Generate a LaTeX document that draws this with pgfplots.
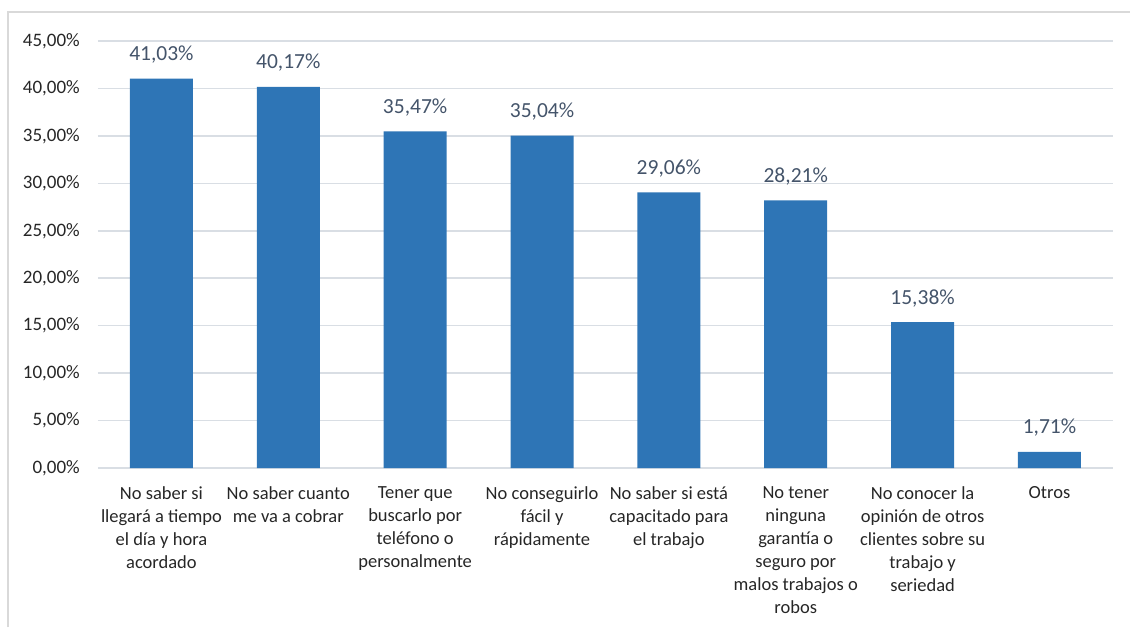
\documentclass[border=0pt]{standalone}
\usepackage{pgfplots}
\pgfplotsset{compat=1.18}
\usepackage{fontspec}
\setmainfont{Carlito}

\definecolor{barblue}{HTML}{2E75B6}
\definecolor{gridgray}{RGB}{217,222,228}
\definecolor{framegray}{RGB}{217,217,217}
\definecolor{lblslate}{HTML}{44546A}
\definecolor{ticktext}{RGB}{38,38,38}

\begin{document}
\begin{tikzpicture}
% page frame, same size as the reference image
\path[use as bounding box] (0,0) rectangle (1130pt,627pt);
\draw[framegray, line width=1.5pt] (8pt,0pt) -- (8pt,615pt) -- (1130pt,615pt);

\begin{axis}[
    at={(98pt,159pt)}, anchor=south west,
    scale only axis,
    width=1015pt, height=427pt,
    ybar, bar width=63pt, bar shift=0pt,
    xmin=-0.5, xmax=7.5,
    ymin=0, ymax=45,
    ytick={0,5,...,45},
    xtick=data,
    axis line style={draw=none},
    major tick length=0pt,
    ymajorgrids,
    grid style={gridgray, line width=1.5pt},
    /pgf/number format/assume math mode=true,
    yticklabel={\pgfmathprintnumber[fixed,fixed zerofill,precision=2,use comma]{\tick}\%},
    yticklabel style={font=\fontsize{19}{22}\selectfont, text=ticktext,
        anchor=east, inner sep=0pt, xshift=-18pt},
    xticklabels={
        {No saber si\\llegará a tiempo\\el día y hora\\acordado},
        {No saber cuanto\\me va a cobrar},
        {Tener que\\buscarlo por\\teléfono o\\personalmente},
        {No conseguirlo\\fácil y\\rápidamente},
        {No saber si está\\capacitado para\\el trabajo},
        {No tener\\ninguna\\garantía o\\seguro por\\malos trabajos o\\robos},
        {No conocer la\\opinión de otros\\clientes sobre su\\trabajo y\\seriedad},
        {Otros}},
    xticklabel style={font=\fontsize{18.5}{23}\selectfont, text=ticktext,
        align=center, anchor=north, inner sep=0pt, yshift=-18pt},
    nodes near coords={\pgfmathprintnumber[fixed,fixed zerofill,precision=2,use comma]{\pgfplotspointmeta}\%},
    nodes near coords style={font=\fontsize{21.5}{24}\selectfont, text=lblslate,
        anchor=south, inner sep=0pt, yshift=15pt},
    clip=false,
]
\addplot[fill=barblue, draw=none] coordinates {
    (0,41.03) (1,40.17) (2,35.47) (3,35.04)
    (4,29.06) (5,28.21) (6,15.38) (7,1.71)
};
\end{axis}
\end{tikzpicture}
\end{document}
